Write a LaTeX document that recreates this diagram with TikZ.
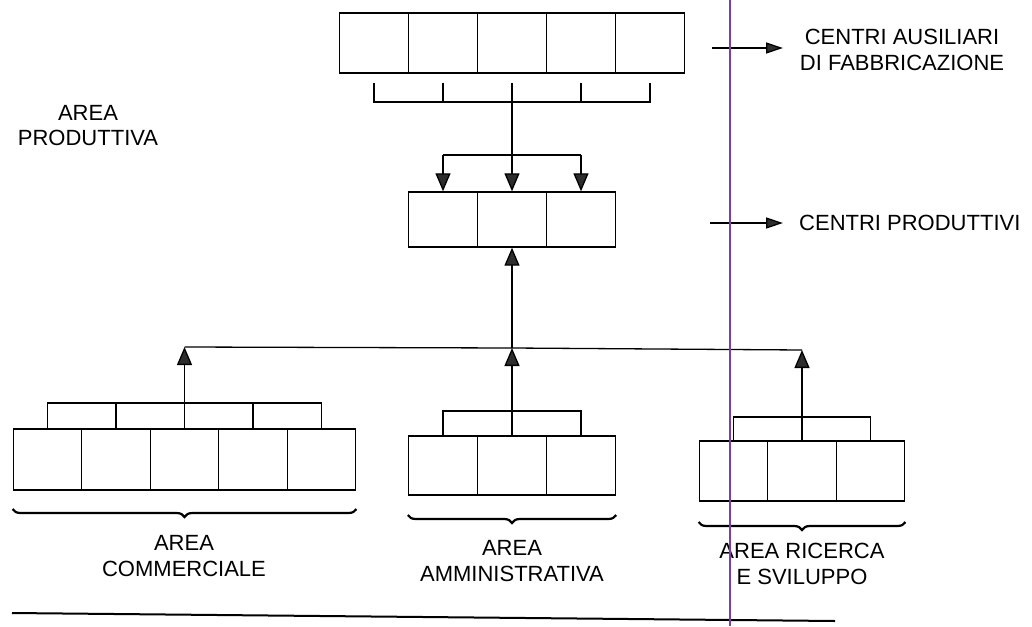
\documentclass[tikz,border=0pt]{standalone}
\usepackage{fontspec}
\setmainfont{Liberation Sans}
\usetikzlibrary{arrows.meta,decorations.pathreplacing}
\definecolor{tipgray}{RGB}{45,45,45}
\definecolor{scanpurple}{RGB}{125,60,170}
\tikzset{
  cell/.style={draw, line width=1.4pt, inner sep=0pt, minimum width=68.5pt},
  conn/.style={line width=1.3pt},
  arr/.style={conn, -{Triangle[width=15pt,length=18pt,fill=tipgray]}},
  sidearr/.style={conn, -{Triangle[width=11pt,length=17pt,fill=tipgray]}},
  brk/.style={line width=1.3pt},
  brc/.style={line width=2.2pt, decorate, decoration={brace, mirror, amplitude=8pt}},
  lbl/.style={font=\fontsize{22}{25.5}\selectfont, align=center, inner sep=0pt},
}
\begin{document}
\begin{tikzpicture}[x=1pt,y=-1pt]
\useasboundingbox (0,0) rectangle (1032,626);
\fill[white] (0,0) rectangle (1032,626);

% top row: centri ausiliari
\foreach \i/\x in {1/374,2/443,3/512,4/581,5/650}
  \node[cell, minimum width=69pt, minimum height=60pt] (t\i) at (\x,43) {};
% bracket below top row
\foreach \x in {374,443,512,581,650}
  \coordinate (tt\x) at (\x,83);
\draw[brk] (tt374) -- (374,102) -- (650,102) -- (tt650);
\draw[brk] (tt443) -- (443,102);
\draw[brk] (tt581) -- (581,102);

% middle row: centri produttivi
\foreach \i/\x in {1/443,2/512,3/581}
  \node[cell, minimum width=69pt, minimum height=55pt] (m\i) at (\x,219.5) {};

\coordinate (sL) at (443,155);
\coordinate (sR) at (581,155);
\draw[conn] (sL) -- (sR);
\draw[arr] (sL) -- (m1.north);
\draw[arr] (tt512) -- (m2.north);
\draw[arr] (sR) -- (m3.north);

% collector line
\coordinate (hL) at (184.5,347);
\coordinate (hC) at (512,348);
\coordinate (hR) at (802,350);
\draw[conn] (hL) -- (hC) -- (hR);
\draw[arr] (hC) -- (m2.south);

% area commerciale
\foreach \i/\x in {1/47.5,2/116,3/184.5,4/253,5/321.5}
  \node[cell, minimum height=61pt] (c\i) at (\x,459.5) {};
\draw[brk] (c1.north) -- (47.5,403) -- (321.5,403) -- (c5.north);
\draw[brk] (c2.north) -- (116,403);
\draw[brk] (c4.north) -- (253,403);
\coordinate (cb) at (184.5,403);
\draw[brk] (c3.north) -- (cb);
\draw[arr] (cb) -- (hL);

% area amministrativa
\foreach \i/\x in {1/443,2/512,3/581}
  \node[cell, minimum width=69pt, minimum height=59pt] (a\i) at (\x,465.5) {};
\draw[brk] (a1.north) -- (443,411) -- (581,411) -- (a3.north);
\coordinate (ab) at (512,411);
\draw[brk] (a2.north) -- (ab);
\draw[arr] (ab) -- (hC);

% area ricerca e sviluppo
\foreach \i/\x in {1/733.5,2/802,3/870.5}
  \node[cell, minimum height=60pt] (r\i) at (\x,471) {};
\draw[brk] (r1.north) -- (733.5,417) -- (870.5,417) -- (r3.north);
\coordinate (rb) at (802,417);
\draw[brk] (r2.north) -- (rb);
\draw[arr] (rb) -- (hR);

% braces
\draw[brc] (c1.south west |- 0,509) -- (c5.south east |- 0,509);
\draw[brc] (a1.south west |- 0,515) -- (a3.south east |- 0,515);
\draw[brc] (r1.south west |- 0,522) -- (r3.south east |- 0,522);

% labels
\node[lbl] (lc) at (184,556) {AREA\\COMMERCIALE};
\node[lbl] (la) at (512,561) {AREA\\AMMINISTRATIVA};
\node[lbl] (lr) at (802,564) {AREA RICERCA\\E SVILUPPO};
\node[lbl] (lp) at (88,125.5) {AREA\\PRODUTTIVA};

% right-side legend
\coordinate (s1) at (712,48);
\node[lbl] (ca) at (902,50) {CENTRI AUSILIARI\\DI FABBRICAZIONE};
\draw[sidearr] (s1) -- (783,48);
\coordinate (s2) at (710,223);
\node[lbl, anchor=west] (cp) at (799,223) {CENTRI PRODUTTIVI};
\draw[sidearr] (s2) -- (783,223);

% bottom rule
\draw[line width=2pt] (12,613) -- (835,621);

% scan line
\draw[scanpurple, line width=1.8pt] (730,0) -- (730,626);
\end{tikzpicture}
\end{document}
